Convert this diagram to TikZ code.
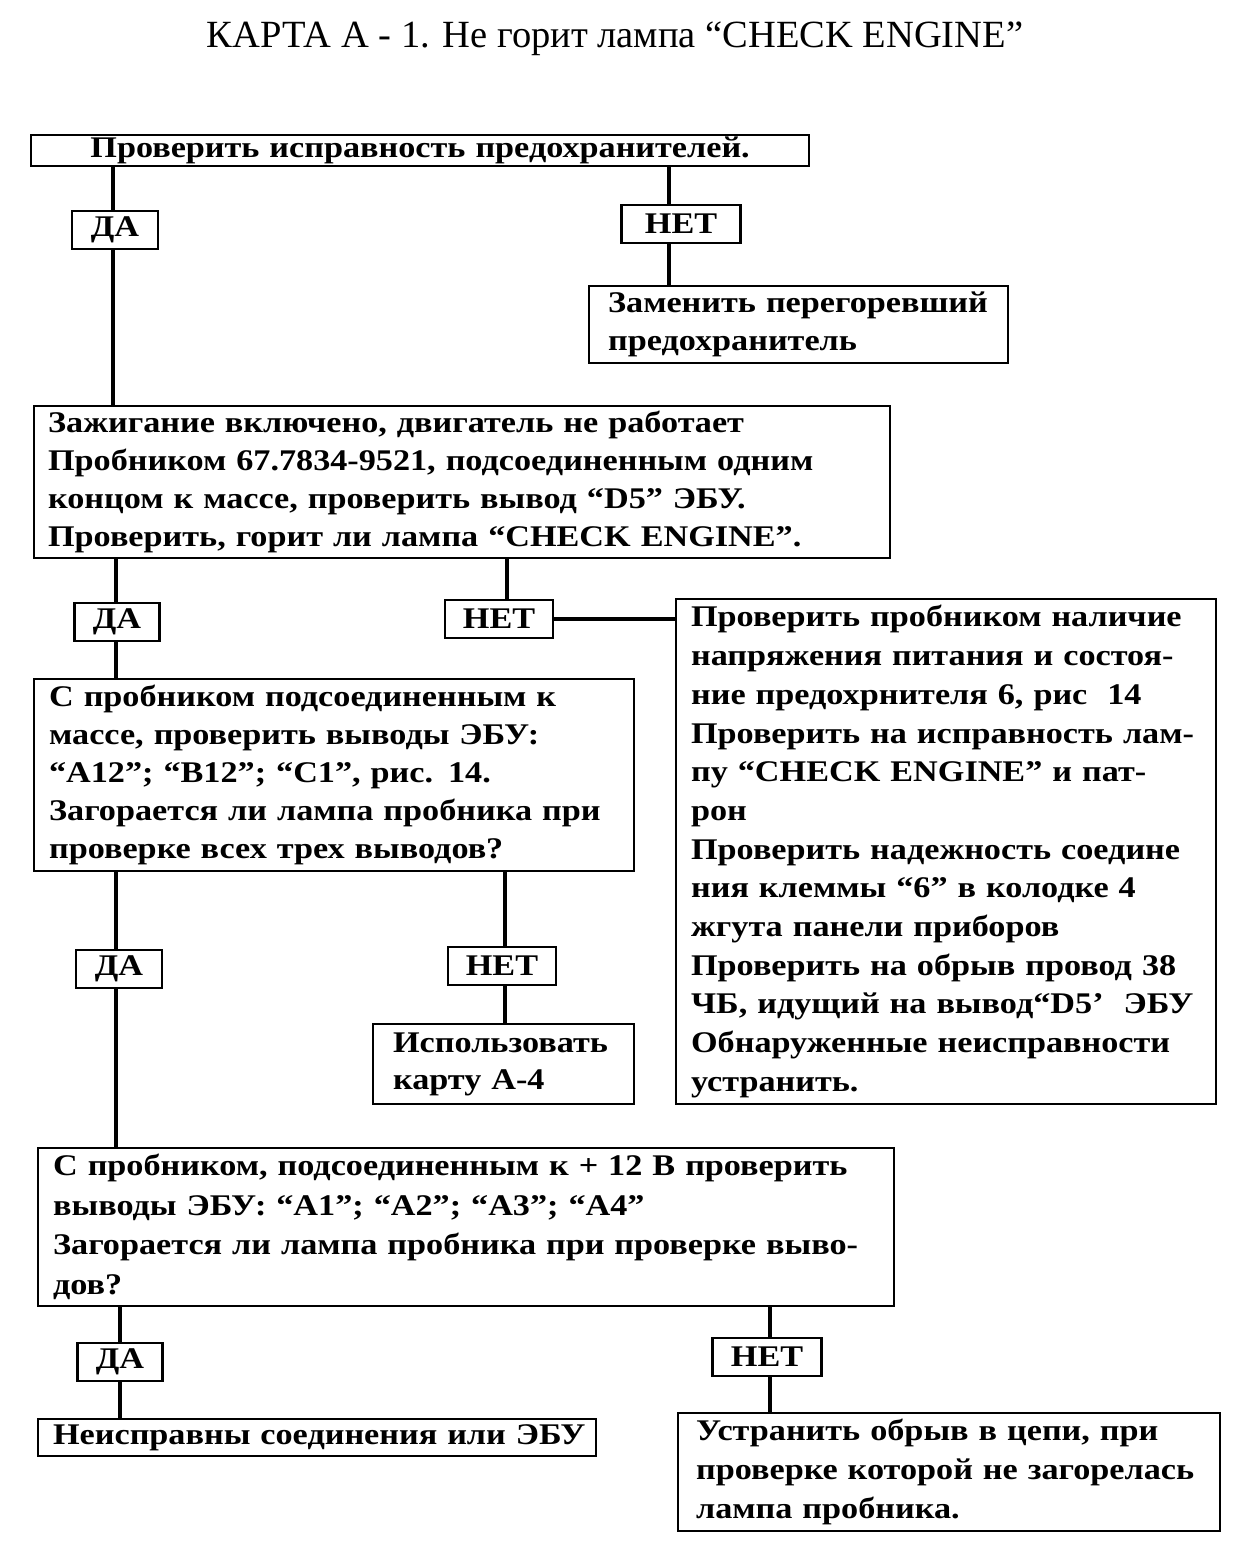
\documentclass[tikz,border=0pt]{standalone}
\usepackage{fontspec}
\setmainfont{Liberation Serif}
\newfontfamily\bxfont{Liberation Serif}[FakeStretch=1.14]
\usetikzlibrary{calc}
\newcommand{\fs}[2]{\fontsize{#1}{#2}\selectfont}
\begin{document}
\begin{tikzpicture}[x=1pt,y=-1pt,
  box/.style={draw, line width=2.2pt, anchor=north west, align=left, inner ysep=0pt, inner xsep=14pt, font=\bxfont\bfseries\fs{30}{38}},
  lbl/.style={draw, line width=2.2pt, inner sep=0pt, minimum height=38pt, font=\bxfont\bfseries\fs{30}{34}},
  conn/.style={line width=4.8pt}]
\useasboundingbox (0,0) rectangle (1243,1559);
\fill[white] (0,0) rectangle (1243,1559);

\node[font=\fs{38.5}{44}] (title) at (615,39) {КАРТА А - 1. Не горит лампа “CHECK ENGINE”};

% row 1
\node[box, align=center, inner xsep=0pt, text width=778pt, minimum width=778pt, minimum height=31pt] (b1) at (30,134) {Проверить исправность предохранителей.};
\node[lbl, minimum width=86pt] (da1) at (115,230) {ДА};
\node[lbl, minimum width=119pt] (net1) at (681,224) {НЕТ};
\node[box, inner xsep=19pt, text width=381pt, minimum width=419pt, minimum height=77pt] (b2) at (588,285) {Заменить перегоревший\\предохранитель};

% row 2
\node[box, text width=828pt, minimum width=856pt, minimum height=152pt] (b3) at (33,405) {Зажигание включено, двигатель не работает\\Пробником 67.7834-9521, подсоединенным одним\\концом к массе, проверить вывод “D5” ЭБУ.\\Проверить, горит ли лампа “CHECK ENGINE”.};
\node[lbl, minimum width=85pt] (da2) at (117,622) {ДА};
\node[lbl, minimum width=108pt] (net2) at (499,619) {НЕТ};
\node[box, inner xsep=15pt, text width=510pt, minimum width=540pt, minimum height=505pt, font=\bxfont\bfseries\fs{30}{38.7}] (rb) at (675,598) {Проверить пробником наличие\\напряжения питания и состоя-\\ние предохрнителя 6, рис~~14\\Проверить на исправность лам-\\пу “CHECK ENGINE” и пат-\\рон\\Проверить надежность соедине\\ния клеммы “6” в колодке 4\\жгута панели приборов\\Проверить на обрыв провод 38\\ЧБ, идущий на вывод“D5’~~ЭБУ\\Обнаруженные неисправности\\устранить.};

% row 3
\node[box, inner xsep=15pt, text width=570pt, minimum width=600pt, minimum height=192pt] (b4) at (33,678) {С пробником подсоединенным к\\массе, проверить выводы ЭБУ:\\“А12”; “В12”; “С1”, рис. 14.\\Загорается ли лампа пробника при\\проверке всех трех выводов?};
\node[lbl, minimum width=86pt] (da3) at (119,969) {ДА};
\node[lbl, minimum width=108pt] (net3) at (502,966) {НЕТ};
\node[box, inner xsep=20pt, text width=221pt, minimum width=261pt, minimum height=80pt, font=\bxfont\bfseries\fs{30}{37}] (b5) at (372,1023) {Использовать\\карту А-4};

% row 4
\node[box, inner xsep=15pt, text width=826pt, minimum width=856pt, minimum height=158pt, font=\bxfont\bfseries\fs{30}{39.5}] (b6) at (37,1147) {С пробником, подсоединенным к + 12 В проверить\\выводы ЭБУ: “А1”; “А2”; “А3”; “А4”\\Загорается ли лампа пробника при проверке выво-\\дов?};
\node[lbl, minimum width=85pt] (da4) at (120,1362) {ДА};
\node[lbl, minimum width=109pt] (net4) at (767,1357) {НЕТ};
\node[box, inner xsep=15pt, text width=528pt, minimum width=558pt, minimum height=37pt] (b7) at (37,1418) {\mbox{Неисправны соединения или ЭБУ}};
\node[box, inner xsep=18pt, text width=506pt, minimum width=542pt, minimum height=118pt, font=\bxfont\bfseries\fs{30}{39}] (b8) at (677,1412) {Устранить обрыв в цепи, при\\проверке которой не загорелась\\лампа пробника.};

% connector x positions
\coordinate (x1) at (113,0);
\coordinate (x2) at (669,0);
\coordinate (x3) at (116,0);
\coordinate (x4) at (507,0);
\coordinate (x5) at (505,0);
\coordinate (x6) at (120,0);
\coordinate (x7) at (770,0);

\draw[conn] (b1.south -| x1) -- (da1.north -| x1);
\draw[conn] (da1.south -| x1) -- (b3.north -| x1);
\draw[conn] (b1.south -| x2) -- (net1.north -| x2);
\draw[conn] (net1.south -| x2) -- (b2.north -| x2);

\draw[conn] (b3.south -| x3) -- (da2.north -| x3);
\draw[conn] (da2.south -| x3) -- (b4.north -| x3);
\draw[conn] (b3.south -| x4) -- (net2.north -| x4);
\draw[conn] (net2.east) -- (net2.east -| rb.west);

\draw[conn] (b4.south -| x3) -- (da3.north -| x3);
\draw[conn] (da3.south -| x3) -- (b6.north -| x3);
\draw[conn] (b4.south -| x5) -- (net3.north -| x5);
\draw[conn] (net3.south -| x5) -- (b5.north -| x5);

\draw[conn] (b6.south -| x6) -- (da4.north -| x6);
\draw[conn] (da4.south -| x6) -- (b7.north -| x6);
\draw[conn] (b6.south -| x7) -- (net4.north -| x7);
\draw[conn] (net4.south -| x7) -- (b8.north -| x7);
\end{tikzpicture}
\end{document}
